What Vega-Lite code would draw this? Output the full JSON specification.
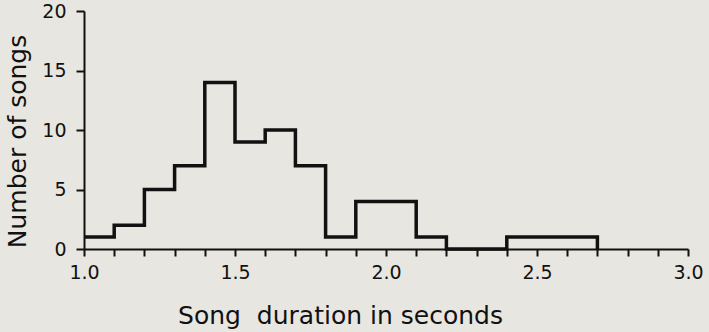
{
  "$schema": "https://vega.github.io/schema/vega-lite/v6.json",
  "width": 604,
  "height": 238,
  "autosize": {"type": "none"},
  "padding": {"left": 84, "top": 11, "right": 21, "bottom": 83},
  "background": "#e8e6e0",
  "config": {"view": {"stroke": null}, "font": "DejaVu Sans"},
  "data": {
    "values": [
      {"duration": 1.0, "songs": 1},
      {"duration": 1.1, "songs": 2},
      {"duration": 1.2, "songs": 5},
      {"duration": 1.3, "songs": 7},
      {"duration": 1.4, "songs": 14},
      {"duration": 1.5, "songs": 9},
      {"duration": 1.6, "songs": 10},
      {"duration": 1.7, "songs": 7},
      {"duration": 1.8, "songs": 1},
      {"duration": 1.9, "songs": 4},
      {"duration": 2.0, "songs": 4},
      {"duration": 2.1, "songs": 1},
      {"duration": 2.2, "songs": 0},
      {"duration": 2.3, "songs": 0},
      {"duration": 2.4, "songs": 1},
      {"duration": 2.5, "songs": 1},
      {"duration": 2.6, "songs": 1},
      {"duration": 2.7, "songs": 0}
    ]
  },
  "mark": {"type": "line", "interpolate": "step-after", "color": "#111111", "strokeWidth": 3.5, "strokeJoin": "miter"},
  "encoding": {
    "x": {
      "field": "duration",
      "type": "quantitative",
      "scale": {"domain": [1, 3], "nice": false, "zero": false},
      "axis": {
        "title": "Song\u00a0\u00a0duration in seconds",
        "values": [1.0, 1.1, 1.2, 1.3, 1.4, 1.5, 1.6, 1.7, 1.8, 1.9, 2.0, 2.1, 2.2, 2.3, 2.4, 2.5, 2.6, 2.7, 2.8, 2.9, 3.0],
        "labelExpr": "(round(datum.value*10) % 5 == 0) ? format(datum.value, '.1f') : ''",
        "grid": false,
        "domainColor": "#111111",
        "domainWidth": 2,
        "tickColor": "#111111",
        "tickWidth": 2,
        "tickSize": 7,
        "labelFontSize": 19,
        "labelColor": "#111111",
        "labelPadding": 7,
        "labelFlush": false,
        "labelOverlap": false,
        "titleFontSize": 25,
        "titleFontWeight": "normal",
        "titleColor": "#111111",
        "titleX": 256,
        "titleY": 74,
        "titleAlign": "center",
        "titleBaseline": "alphabetic"
      }
    },
    "y": {
      "field": "songs",
      "type": "quantitative",
      "scale": {"domain": [0, 20], "nice": false},
      "axis": {
        "title": "Number of songs",
        "values": [0, 5, 10, 15, 20],
        "grid": false,
        "domainColor": "#111111",
        "domainWidth": 2,
        "tickColor": "#111111",
        "tickWidth": 2,
        "tickSize": 8,
        "labelFontSize": 19,
        "labelColor": "#111111",
        "labelPadding": 10,
        "titleFontSize": 25,
        "titleFontWeight": "normal",
        "titleColor": "#111111",
        "titleAngle": -90,
        "titleX": -59,
        "titleY": 130,
        "titleAlign": "center",
        "titleBaseline": "alphabetic"
      }
    }
  }
}
